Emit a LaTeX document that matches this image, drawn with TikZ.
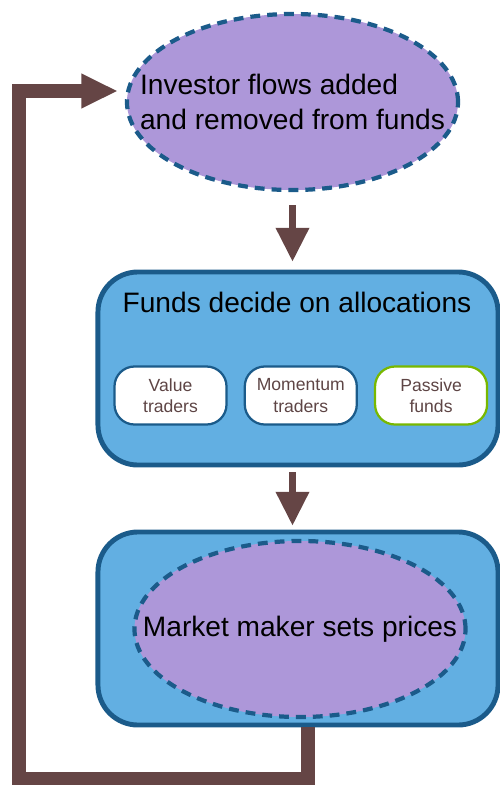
\documentclass[tikz,border=0pt]{standalone}
\usepackage{fontspec}
\setmainfont{Liberation Sans}
\usetikzlibrary{arrows.meta,calc,positioning,shapes.geometric}
\definecolor{lilac}{HTML}{AD97D9}
\definecolor{deepblue}{HTML}{1B5B8A}
\definecolor{sky}{HTML}{62AFE2}
\definecolor{cocoa}{HTML}{654545}
\definecolor{cocoaText}{HTML}{5E4545}
\definecolor{leaf}{HTML}{78B800}
\tikzset{
  bigfont/.style={font=\fontsize{20}{25}\selectfont},
  blob/.style={ellipse,draw=deepblue,fill=lilac,line width=3pt,dash pattern=on 7pt off 5pt,bigfont,text=black,align=left,inner xsep=-1cm,inner ysep=0pt},
  stage/.style={draw=deepblue,fill=sky,line width=3.5pt,rounded corners=1cm,minimum width=10cm,minimum height=4.825cm},
  agent/.style={draw=deepblue,fill=white,line width=1.6pt,rounded corners=0.5cm,minimum width=2.8cm,minimum height=1.45cm,align=center,text=cocoaText,font=\fontsize{12.5}{15}\selectfont,inner sep=2pt},
  flow/.style={-{Triangle[length=24pt,width=23pt]},line width=4.3pt,draw=cocoa},
  feedback/.style={-{Triangle[length=26pt,width=23pt]},line width=10pt,draw=cocoa}
}
\begin{document}
\begin{tikzpicture}[x=0.025cm,y=0.025cm]
  \useasboundingbox (0,0) rectangle (500,-785);
  \node[blob,minimum width=8.275cm,minimum height=4.4cm] (flows) at (292.5,-102) {Investor flows added\\and removed from funds};
  \node[stage] (funds) at (298,-368.5) {};
  \node[bigfont] (fundstitle) at (297,-302) {Funds decide on allocations};
  \node[agent] (value) at (170.5,-395.5) {Value\\traders};
  \node[agent,right=0.4cm of value] (momentum) {Momentum\\traders};
  \node[agent,draw=leaf,right=0.4cm of momentum] (passive) {Passive\\funds};
  \node[stage] (pricing) at (298,-628.5) {};
  \node[blob,minimum width=8.05cm,minimum height=4.4cm] (maker) at (300,-629) {Market maker sets prices};
  \coordinate (corner) at (19,-779);
  \draw[flow,shorten <=0.325cm,shorten >=0.2cm] (flows.south) -- (flows.south |- funds.north);
  \draw[flow,shorten <=0.125cm,shorten >=0.1cm] (flows.south |- funds.south) -- (flows.south |- pricing.north);
  \draw[feedback] ($(pricing.south)+(10,0)$) |- (corner) |- ($(flows.west)+(-7,11)$);
\end{tikzpicture}
\end{document}
